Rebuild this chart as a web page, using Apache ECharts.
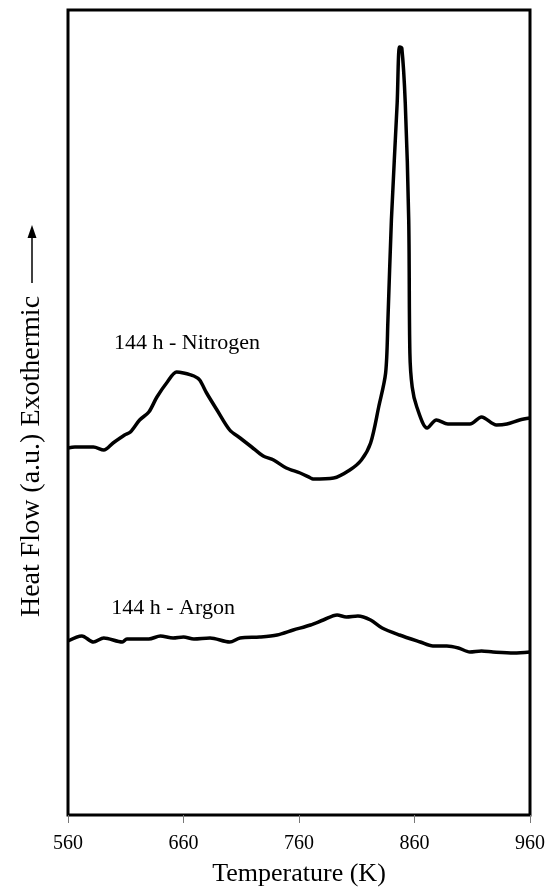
<!DOCTYPE html>
<html>
<head>
<meta charset="utf-8">
<script src="https://cdn.jsdelivr.net/npm/echarts@6/dist/echarts.min.js"></script>
<style>html,body{margin:0;padding:0;background:#fff}#c{width:550px;height:889px}</style>
</head>
<body>
<div id="c"></div>
<script>
// Temperature (K) and heat flow (a.u.) for each run
const nitrogenT = [560, 566, 582, 591, 599, 609, 614, 622, 630, 637, 646, 654, 660, 669, 674, 680, 689, 700, 709, 719, 729, 738, 749, 761, 770, 772, 790, 804, 814, 822, 829, 835, 837, 840, 845, 847, 849, 852, 855, 856, 858, 862, 871, 879, 889, 908, 918, 931, 940, 951, 960];
const nitrogenHF = [367, 368, 368, 365, 372, 380, 383, 395, 403, 418, 433, 443, 442, 439, 435, 422, 405, 385, 377, 368, 359, 355, 347, 342, 337, 336, 337, 345, 355, 372, 408, 442, 495, 595, 712, 768, 767, 712, 595, 462, 428, 408, 387, 395, 391, 391, 398, 390, 391, 395, 397];
const argonT = [560, 572, 582, 591, 607, 611, 630, 640, 651, 660, 669, 683, 700, 709, 726, 741, 755, 770, 781, 793, 801, 811, 822, 832, 847, 865, 876, 888, 898, 908, 918, 928, 946, 960];
const argonHF = [174, 179, 173, 177, 173, 176, 176, 179, 177, 178, 176, 177, 173, 177, 178, 180, 185, 190, 195, 200, 198, 199, 195, 187, 180, 173, 169, 169, 167, 163, 164, 163, 162, 163];
const xTicks = [560, 660, 760, 860, 960];
const seriesNames = ['144 h - Nitrogen', '144 h - Argon'];
const labelAt = [[663, 472], [651, 207]];

const font = 'Liberation Serif, Times New Roman, serif';
const zip = (a, b) => a.map((v, i) => [v, b[i]]);

const chart = echarts.init(document.getElementById('c'), null, {renderer: 'canvas'});
const mkSeries = (name, data, lab) => ({
  name, type: 'line', data, showSymbol: false, smooth: 0.3,
  lineStyle: {color: '#000', width: 3.5}, itemStyle: {color: '#000'},
  markPoint: {
    symbol: 'circle', symbolSize: 0, silent: true,
    data: [{coord: lab, value: name}],
    label: {show: true, position: 'inside', formatter: name, color: '#000', fontFamily: font, fontSize: 22}
  }
});
chart.setOption({
  animation: false,
  grid: {left: 68, right: 20, top: 10, bottom: 74, show: true, borderColor: '#000', borderWidth: 3, backgroundColor: 'transparent', containLabel: false, outerBoundsMode: 'none'},
  xAxis: {
    type: 'value', min: xTicks[0], max: xTicks[xTicks.length - 1], interval: 100,
    axisLine: {show: false},
    axisTick: {show: true, inside: false, length: 8, lineStyle: {color: '#777', width: 1}},
    splitLine: {show: false},
    axisLabel: {color: '#000', fontFamily: font, fontSize: 20, margin: 19},
    name: 'Temperature (K)', nameLocation: 'middle', nameGap: 46,
    nameTextStyle: {color: '#000', fontFamily: font, fontSize: 26}
  },
  yAxis: {
    type: 'value', min: 0, max: 805,
    axisLine: {show: false}, axisTick: {show: false}, axisLabel: {show: false}, splitLine: {show: false},
    name: 'Heat Flow (a.u.) Exothermic', nameLocation: 'middle', nameGap: 22, nameRotate: 90,
    nameTextStyle: {color: '#000', fontFamily: font, fontSize: 28, padding: [0, 88, 0, 0]}
  },
  graphic: [
    {type: 'line', shape: {x1: 32, y1: 283, x2: 32, y2: 236}, style: {stroke: '#000', lineWidth: 1.5}},
    {type: 'polygon', shape: {points: [[32, 225], [27.5, 238], [36.5, 238]]}, style: {fill: '#000'}}
  ],
  series: [
    mkSeries(seriesNames[0], zip(nitrogenT, nitrogenHF), labelAt[0]),
    mkSeries(seriesNames[1], zip(argonT, argonHF), labelAt[1])
  ]
});
</script>
</body>
</html>
